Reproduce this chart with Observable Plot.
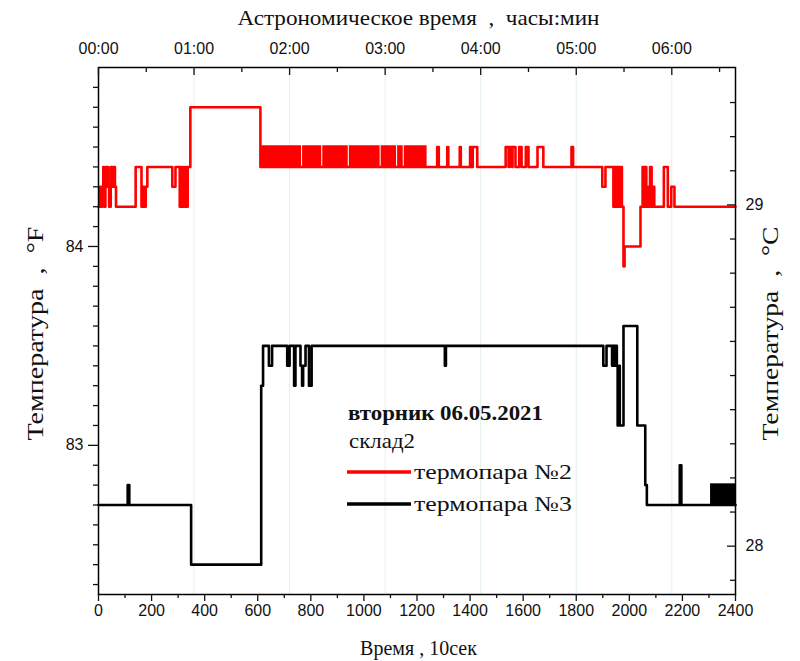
<!DOCTYPE html>
<html>
<head>
<meta charset="utf-8">
<script src="https://cdn.jsdelivr.net/npm/d3@7"></script>
<script src="https://cdn.jsdelivr.net/npm/@observablehq/plot@0.6"></script>
<style>
  body { margin: 0; background: #fff; }
  #chart { position: relative; width: 800px; height: 661px; }
</style>
</head>
<body>
<div id="chart"></div>
<script>
// ---- data: time in units of 10 s, temperature in °F (step change points) ----
const redSteps = [
  [0,84.2],[6,84.3],[10,84.2],[14,84.3],[18,84.4],[22,84.2],[26,84.3],[30,84.4],[36,84.3],[40,84.2],
  [46,84.4],[52,84.3],[58,84.4],[62,84.3],[66,84.2],[140,84.4],[162,84.2],[168,84.3],[172,84.2],[178,84.3],
  [184,84.4],[278,84.3],[290,84.4],[306,84.2],[312,84.4],[314,84.2],[320,84.4],[322,84.2],[328,84.4],[330,84.2],
  [336,84.4],[346,84.7],[610,84.4],[1276,84.5],[1282,84.4],[1314,84.5],[1318,84.4],[1361,84.5],[1365,84.4],
  [1400,84.5],[1405,84.4],[1410,84.5],[1427,84.4],[1534,84.5],[1545,84.4],[1548,84.5],[1557,84.4],[1560,84.5],
  [1571,84.4],[1585,84.5],[1594,84.4],[1610,84.5],[1620,84.4],[1654,84.5],[1676,84.4],[1782,84.5],[1788,84.4],
  [1898,84.3],[1910,84.4],[1940,84.2],[1944,84.4],[1948,84.2],[1952,84.4],[1956,84.2],[1960,84.4],[1964,84.2],
  [1968,84.4],[1972,84.2],[1978,83.9],[1982,84.0],[2042,84.2],[2050,84.4],[2054,84.2],[2058,84.4],[2064,84.2],
  [2068,84.3],[2072,84.2],[2078,84.4],[2084,84.2],[2088,84.3],[2094,84.2],[2130,84.4],[2145,84.2],[2158,84.3],
  [2170,84.2],[2400,84.2]
];
const blackSteps = [
  [0,82.7],[110,82.8],[116,82.7],[349,82.4],[613,83.3],[620,83.5],[642,83.4],[654,83.5],[711,83.4],[720,83.5],
  [737,83.3],[742,83.5],[761,83.4],[767,83.3],[771,83.4],[780,83.5],[793,83.3],[803,83.5],[1305,83.4],[1309,83.5],
  [1902,83.4],[1914,83.5],[1935,83.4],[1938,83.5],[1941,83.4],[1944,83.5],[1947,83.4],[1950,83.5],[1953,83.4],
  [1956,83.1],[1961,83.4],[1964,83.1],[1978,83.6],[2030,83.1],[2060,82.8],[2066,82.7],[2190,82.9],[2196,82.7],
  [2400,82.7]
];
// dense fluctuation zones (drawn as filled bands between two levels)
const redBandStart = [610, 769, 845, 945, 1065, 1127, 1152];
const redBandEnd   = [765, 841, 941, 1061, 1123, 1148, 1238];
const redBandLevels = [84.4, 84.5];
const blackBandStart = [2306];
const blackBandEnd   = [2400];
const blackBandLevels = [82.7, 82.8];

// ---- axes ----
const xDomain = [0, 2400];
const yDomain = [82.25, 84.9];
const xMajor = [0,200,400,600,800,1000,1200,1400,1600,1800,2000,2200,2400];
const xMinor = [100,300,500,700,900,1100,1300,1500,1700,1900,2100,2300];
const hourTicks = [0,360,720,1080,1440,1800,2160];
const hourLabels = ["00:00","01:00","02:00","03:00","04:00","05:00","06:00"];
const halfHourTicks = [180,540,900,1260,1620,1980,2340];
const fMajor = [83, 84];
const fMinor = [82.3,82.4,82.5,82.6,82.7,82.8,82.9,83.1,83.2,83.3,83.4,83.5,83.6,83.7,83.8,83.9,84.1,84.2,84.3,84.4,84.5,84.6,84.7,84.8];
const cMajor = [28, 29];
const cMinor = [27.9,28.1,28.2,28.3,28.4,28.5,28.6,28.7,28.8,28.9,29.1,29.2,29.3];
// right axis calibration (as drawn): °C -> position on °F scale
const cRef = 29, fAtCRef = 84.209, fPerC = 1.716;
const toF = c => fAtCRef + (c - cRef) * fPerC;
const fromF = f => cRef + (f - fAtCRef) / fPerC;

const W = 800, H = 661;
const mL = 98, mR = 65, mT = 67, mB = 67;
const xPerPx = (xDomain[1] - xDomain[0]) / (W - mL - mR);
const yPerPx = (yDomain[1] - yDomain[0]) / (H - mT - mB);

const red = redSteps.map(([t, v]) => ({t, v}));
const black = blackSteps.map(([t, v]) => ({t, v}));
const redBands = redBandStart.map((s, i) => ({x1: s, x2: redBandEnd[i]}));
const blackBands = blackBandStart.map((s, i) => ({x1: s, x2: blackBandEnd[i]}));

const chart = Plot.plot({
  width: W, height: H,
  marginLeft: mL, marginRight: mR, marginTop: mT, marginBottom: mB,
  style: {fontFamily: "'Liberation Sans', Arial, sans-serif", fontSize: "16px", color: "#111", background: "#fff"},
  x: {domain: xDomain},
  y: {domain: yDomain},
  marks: [
    Plot.ruleX(hourTicks.slice(1), {stroke: "#e3f2e6", strokeWidth: 1}),
    Plot.rect(redBands, {x1: "x1", x2: "x2", y1: redBandLevels[0], y2: redBandLevels[1], fill: "#ff0000", insetTop: -1.3, insetBottom: -1.3}),
    Plot.rect(blackBands, {x1: "x1", x2: "x2", y1: blackBandLevels[0], y2: blackBandLevels[1], fill: "#000", insetTop: -1.3, insetBottom: -1.3}),
    Plot.line(red, {x: "t", y: "v", curve: "step-after", stroke: "#ff0000", strokeWidth: 2.6}),
    Plot.line(black, {x: "t", y: "v", curve: "step-after", stroke: "#000", strokeWidth: 2.6}),
    Plot.frame({stroke: "#000", strokeWidth: 1.5}),
    // bottom axis
    Plot.axisX({anchor: "bottom", ticks: xMajor, tickSize: 7, tickPadding: 3, tickFormat: d => String(d), label: null, strokeWidth: 1.3}),
    Plot.axisX({anchor: "bottom", ticks: xMinor, tickSize: 4, tickFormat: () => "", label: null, strokeWidth: 1.3}),
    // top axis (astronomical time)
    Plot.axisX({anchor: "top", ticks: hourTicks, tickSize: 0, tickPadding: 14, tickFormat: d => hourLabels[hourTicks.indexOf(d)], label: null}),
    Plot.ruleX(hourTicks, {y1: yDomain[1], y2: yDomain[1] - 8 * yPerPx, strokeWidth: 1.3}),
    Plot.ruleX(halfHourTicks, {y1: yDomain[1], y2: yDomain[1] - 5 * yPerPx, strokeWidth: 1.3}),
    // left axis °F
    Plot.axisY({anchor: "left", ticks: fMajor, tickSize: 10, tickPadding: 5, tickFormat: d => String(d), label: null, strokeWidth: 1.3}),
    Plot.axisY({anchor: "left", ticks: fMinor, tickSize: 5, tickFormat: () => "", label: null, strokeWidth: 1.3}),
    // right axis °C
    Plot.axisY({anchor: "right", ticks: cMajor.map(toF), tickSize: 0, tickPadding: 10, tickFormat: d => String(Math.round(fromF(d))), label: null}),
    Plot.ruleY(cMajor.map(toF), {x1: xDomain[1] - 8 * xPerPx, x2: xDomain[1], strokeWidth: 1.3}),
    Plot.ruleY(cMinor.map(toF), {x1: xDomain[1] - 5 * xPerPx, x2: xDomain[1], strokeWidth: 1.3})
  ]
});

document.getElementById("chart").appendChild(chart);

// titles and legend
const svg = d3.select(chart);
const serif = "'Liberation Serif', 'Times New Roman', serif";
const cx = mL + (W - mL - mR) / 2;
const cy = mT + (H - mT - mB) / 2;
function title(sel, txt, size, len) {
  const t = sel.append("text").attr("font-family", serif).attr("font-size", size).attr("fill", "#111")
    .attr("text-anchor", "middle").text(txt);
  if (len) t.attr("textLength", len).attr("lengthAdjust", "spacingAndGlyphs");
  return t;
}
title(svg, "Астрономическое время  ,  часы:мин", 22, 362).attr("x", cx + 2).attr("y", 25).style("white-space", "pre");
title(svg, "Время , 10сек", 20, null).attr("x", cx + 2).attr("y", 655);
title(svg, "Температура  ,  °F", 24, 214).attr("transform", `translate(43,${cy + 3}) rotate(-90)`).style("white-space", "pre");
title(svg, "Температура  ,  °C", 24, 214).attr("transform", `translate(778,${cy + 3}) rotate(-90)`).style("white-space", "pre");

const lg = svg.append("g").attr("font-family", serif).attr("fill", "#111").attr("text-anchor", "start");
lg.append("text").attr("x", 348).attr("y", 420).attr("font-size", 21).attr("font-weight", "bold")
  .attr("textLength", 195).attr("lengthAdjust", "spacingAndGlyphs").text("вторник 06.05.2021");
lg.append("text").attr("x", 349).attr("y", 448).attr("font-size", 21)
  .attr("textLength", 66).attr("lengthAdjust", "spacingAndGlyphs").text("склад2");
lg.append("line").attr("x1", 347).attr("x2", 411).attr("y1", 472).attr("y2", 472).attr("stroke", "#ff0000").attr("stroke-width", 3.5);
lg.append("text").attr("x", 414).attr("y", 479).attr("font-size", 21)
  .attr("textLength", 158).attr("lengthAdjust", "spacingAndGlyphs").text("термопара №2");
lg.append("line").attr("x1", 347).attr("x2", 411).attr("y1", 504).attr("y2", 504).attr("stroke", "#000").attr("stroke-width", 3.5);
lg.append("text").attr("x", 414).attr("y", 511).attr("font-size", 21)
  .attr("textLength", 158).attr("lengthAdjust", "spacingAndGlyphs").text("термопара №3");
</script>
</body>
</html>
